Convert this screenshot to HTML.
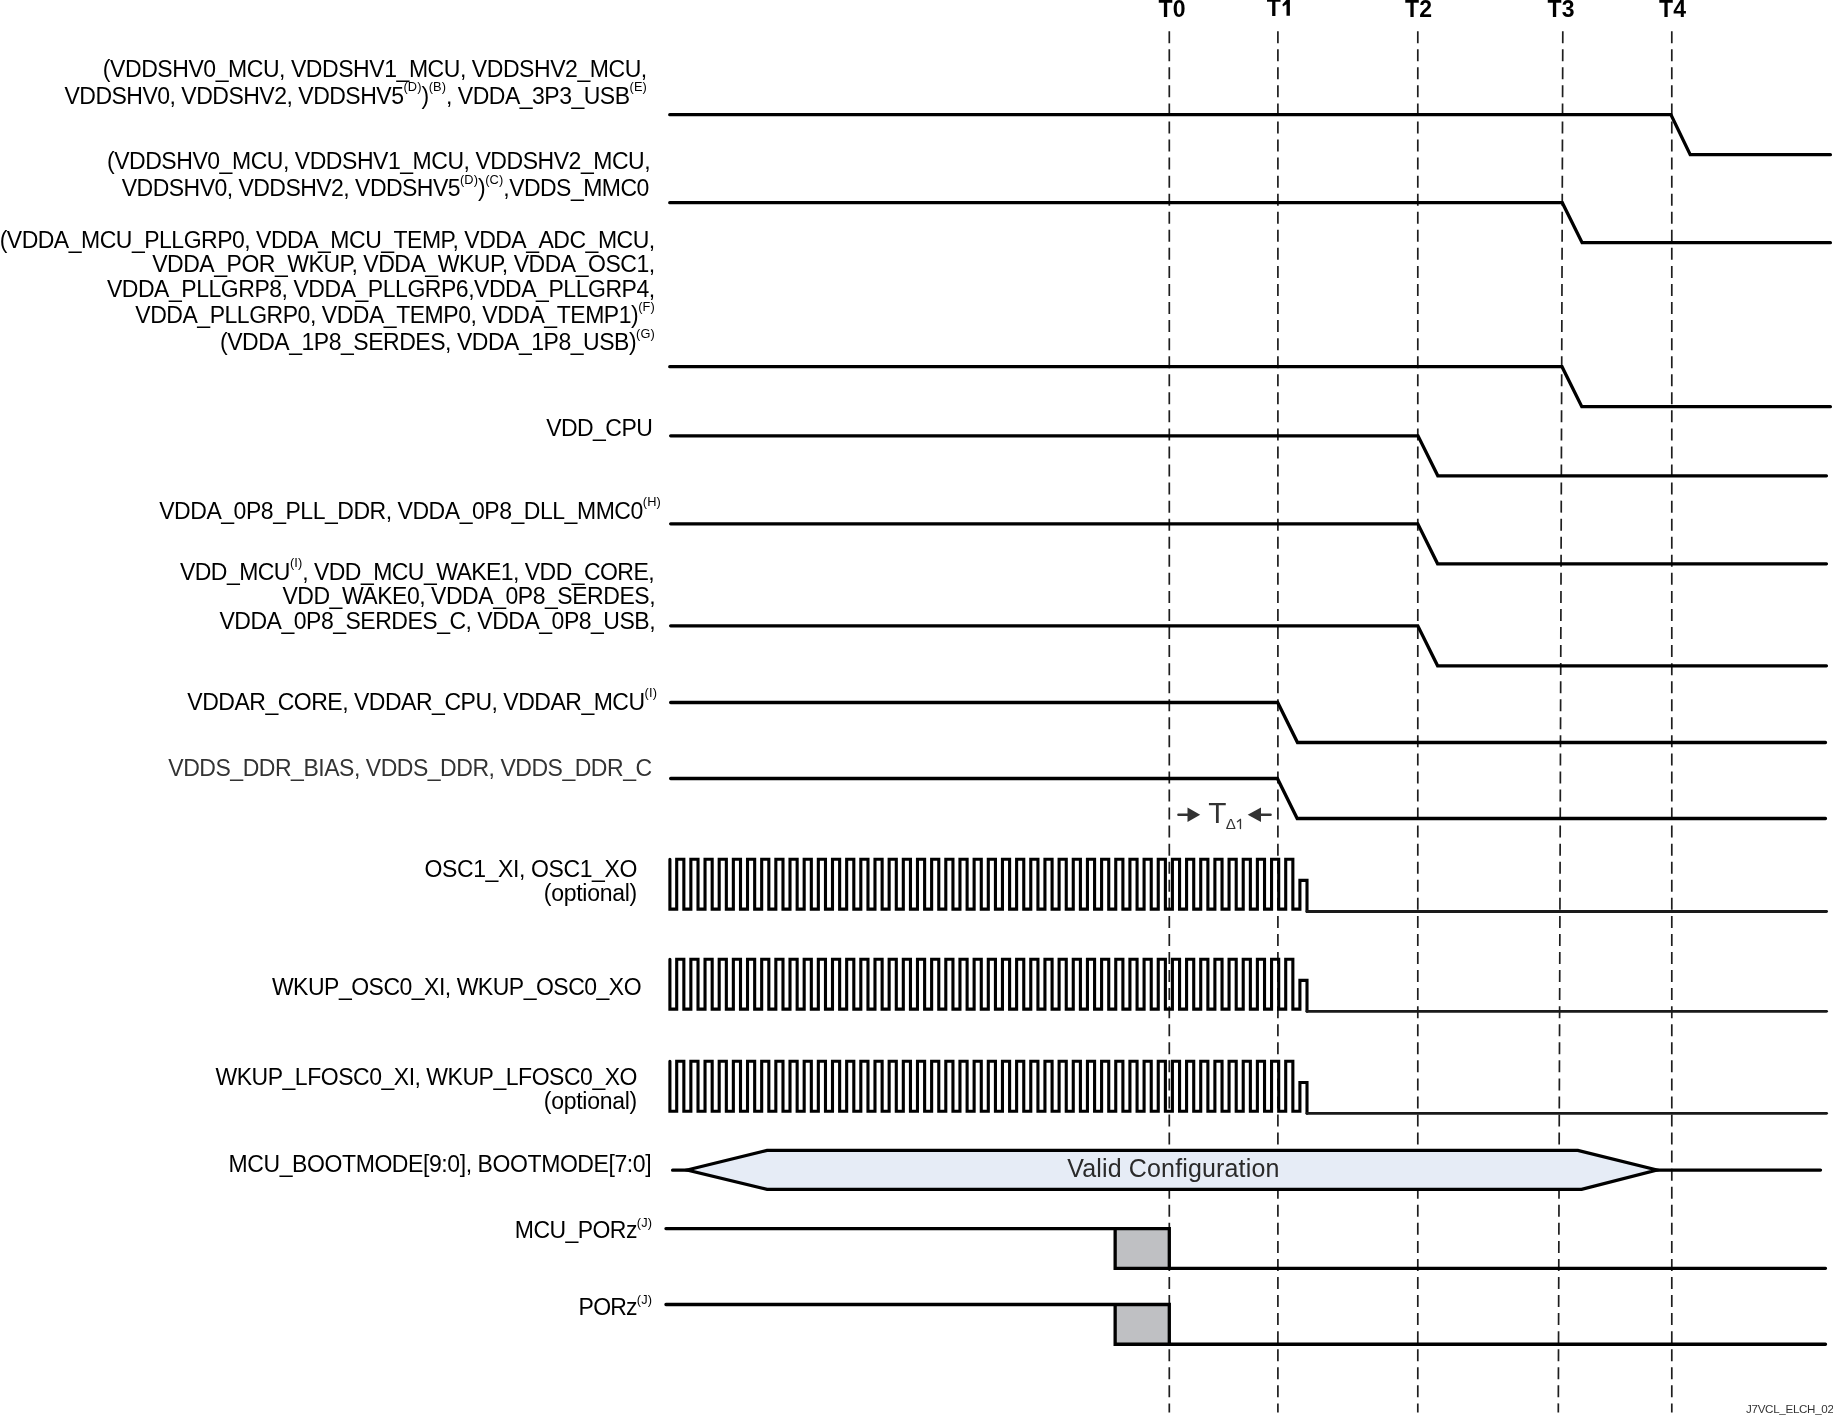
<!DOCTYPE html>
<html><head><meta charset="utf-8"><style>
html,body{margin:0;padding:0;background:#fff;}
body{width:1833px;height:1415px;overflow:hidden;}
svg{display:block;will-change:transform;font-family:"Liberation Sans",sans-serif;}
</style></head><body>
<svg width="1833" height="1415" viewBox="0 0 1833 1415">
<rect width="1833" height="1415" fill="#fff"/>
<line x1="1169.3" y1="31.2" x2="1169.3" y2="1412.6" stroke="#1e1e1e" stroke-width="1.7" stroke-dasharray="12.0 6.055"/>
<line x1="1277.9" y1="31.2" x2="1277.9" y2="1412.6" stroke="#1e1e1e" stroke-width="1.7" stroke-dasharray="12.0 6.055"/>
<line x1="1417.8" y1="31.2" x2="1417.8" y2="1412.6" stroke="#1e1e1e" stroke-width="1.7" stroke-dasharray="12.0 6.055"/>
<line x1="1562.8" y1="31.2" x2="1558.3" y2="1412.6" stroke="#1e1e1e" stroke-width="1.7" stroke-dasharray="12.0 6.055"/>
<line x1="1671.8" y1="31.2" x2="1671.8" y2="1412.6" stroke="#1e1e1e" stroke-width="1.7" stroke-dasharray="12.0 6.055"/>
<text x="1172" y="17" text-anchor="middle" font-weight="bold" font-size="23">T0</text>
<text x="1266.7" y="15.7" font-weight="bold" font-size="23">T</text>
<path d="M1286.5 -1 H1289.9 V15.7 H1286.5 Z M1287.3 -1 L1286.5 4.3 L1283 6.6 L1282.4 4.4 Z" fill="#000"/>
<text x="1418.5" y="16.5" text-anchor="middle" font-weight="bold" font-size="23">T2</text>
<text x="1561" y="17" text-anchor="middle" font-weight="bold" font-size="23">T3</text>
<text x="1672.5" y="16.5" text-anchor="middle" font-weight="bold" font-size="23">T4</text>
<path d="M669.75 114.65 H1670.9 L1690.20 154.65 H1830.4" fill="none" stroke="#000" stroke-width="3.3" stroke-linejoin="miter" stroke-linecap="round"/>
<path d="M669.75 202.65 H1562.3 L1582.10 242.65 H1830.4" fill="none" stroke="#000" stroke-width="3.3" stroke-linejoin="miter" stroke-linecap="round"/>
<path d="M669.75 366.65 H1562.0 L1581.80 406.65 H1830.4" fill="none" stroke="#000" stroke-width="3.3" stroke-linejoin="miter" stroke-linecap="round"/>
<path d="M670.65 435.8 H1418.0 L1437.80 475.8 H1826.45" fill="none" stroke="#000" stroke-width="3.3" stroke-linejoin="miter" stroke-linecap="round"/>
<path d="M670.65 523.8 H1417.8 L1437.60 563.8 H1826.45" fill="none" stroke="#000" stroke-width="3.3" stroke-linejoin="miter" stroke-linecap="round"/>
<path d="M670.65 625.8 H1417.8 L1437.60 665.8 H1826.45" fill="none" stroke="#000" stroke-width="3.3" stroke-linejoin="miter" stroke-linecap="round"/>
<path d="M670.65 702.5 H1277.7 L1297.50 742.5 H1825.5" fill="none" stroke="#000" stroke-width="3.3" stroke-linejoin="miter" stroke-linecap="round"/>
<path d="M670.65 778.5 H1277.4 L1297.20 818.5 H1825.5" fill="none" stroke="#000" stroke-width="3.3" stroke-linejoin="miter" stroke-linecap="round"/>
<path d="M669.9 859.3 V909.1 H676.70 V859.3 H683.85 V909.1 H690.86 V859.3 H698.01 V909.1 H705.03 V859.3 H712.18 V909.1 H719.19 V859.3 H726.34 V909.1 H733.35 V859.3 H740.50 V909.1 H747.52 V859.3 H754.67 V909.1 H761.68 V859.3 H768.83 V909.1 H775.84 V859.3 H782.99 V909.1 H790.00 V859.3 H797.15 V909.1 H804.17 V859.3 H811.32 V909.1 H818.33 V859.3 H825.48 V909.1 H832.49 V859.3 H839.64 V909.1 H846.66 V859.3 H853.81 V909.1 H860.82 V859.3 H867.97 V909.1 H874.98 V859.3 H882.13 V909.1 H889.14 V859.3 H896.29 V909.1 H903.31 V859.3 H910.46 V909.1 H917.47 V859.3 H924.62 V909.1 H931.63 V859.3 H938.78 V909.1 H945.80 V859.3 H952.95 V909.1 H959.96 V859.3 H967.11 V909.1 H974.12 V859.3 H981.27 V909.1 H988.29 V859.3 H995.44 V909.1 H1002.45 V859.3 H1009.60 V909.1 H1016.61 V859.3 H1023.76 V909.1 H1030.78 V859.3 H1037.93 V909.1 H1044.94 V859.3 H1052.09 V909.1 H1059.10 V859.3 H1066.25 V909.1 H1073.26 V859.3 H1080.41 V909.1 H1087.43 V859.3 H1094.58 V909.1 H1101.59 V859.3 H1108.74 V909.1 H1115.75 V859.3 H1122.90 V909.1 H1129.92 V859.3 H1137.07 V909.1 H1144.08 V859.3 H1151.23 V909.1 H1158.24 V859.3 H1165.39 V909.1 H1172.40 V859.3 H1179.56 V909.1 H1186.57 V859.3 H1193.72 V909.1 H1200.73 V859.3 H1207.88 V909.1 H1214.89 V859.3 H1222.04 V909.1 H1229.06 V859.3 H1236.21 V909.1 H1243.22 V859.3 H1250.37 V909.1 H1257.38 V859.3 H1264.53 V909.1 H1271.55 V859.3 H1278.70 V909.1 H1285.71 V859.3 H1292.86 V909.1 H1299.91 V880.4 H1307.01 V911.5" fill="none" stroke="#000" stroke-width="3.1" stroke-linejoin="miter" stroke-linecap="round"/><path d="M1307.01 911.5 H1826.6" fill="none" stroke="#1a1a1a" stroke-width="2.8" stroke-linecap="round"/>
<path d="M669.9 959.3 V1009.1 H676.70 V959.3 H683.85 V1009.1 H690.86 V959.3 H698.01 V1009.1 H705.03 V959.3 H712.18 V1009.1 H719.19 V959.3 H726.34 V1009.1 H733.35 V959.3 H740.50 V1009.1 H747.52 V959.3 H754.67 V1009.1 H761.68 V959.3 H768.83 V1009.1 H775.84 V959.3 H782.99 V1009.1 H790.00 V959.3 H797.15 V1009.1 H804.17 V959.3 H811.32 V1009.1 H818.33 V959.3 H825.48 V1009.1 H832.49 V959.3 H839.64 V1009.1 H846.66 V959.3 H853.81 V1009.1 H860.82 V959.3 H867.97 V1009.1 H874.98 V959.3 H882.13 V1009.1 H889.14 V959.3 H896.29 V1009.1 H903.31 V959.3 H910.46 V1009.1 H917.47 V959.3 H924.62 V1009.1 H931.63 V959.3 H938.78 V1009.1 H945.80 V959.3 H952.95 V1009.1 H959.96 V959.3 H967.11 V1009.1 H974.12 V959.3 H981.27 V1009.1 H988.29 V959.3 H995.44 V1009.1 H1002.45 V959.3 H1009.60 V1009.1 H1016.61 V959.3 H1023.76 V1009.1 H1030.78 V959.3 H1037.93 V1009.1 H1044.94 V959.3 H1052.09 V1009.1 H1059.10 V959.3 H1066.25 V1009.1 H1073.26 V959.3 H1080.41 V1009.1 H1087.43 V959.3 H1094.58 V1009.1 H1101.59 V959.3 H1108.74 V1009.1 H1115.75 V959.3 H1122.90 V1009.1 H1129.92 V959.3 H1137.07 V1009.1 H1144.08 V959.3 H1151.23 V1009.1 H1158.24 V959.3 H1165.39 V1009.1 H1172.40 V959.3 H1179.56 V1009.1 H1186.57 V959.3 H1193.72 V1009.1 H1200.73 V959.3 H1207.88 V1009.1 H1214.89 V959.3 H1222.04 V1009.1 H1229.06 V959.3 H1236.21 V1009.1 H1243.22 V959.3 H1250.37 V1009.1 H1257.38 V959.3 H1264.53 V1009.1 H1271.55 V959.3 H1278.70 V1009.1 H1285.71 V959.3 H1292.86 V1009.1 H1299.91 V980.4 H1307.01 V1011.3" fill="none" stroke="#000" stroke-width="3.1" stroke-linejoin="miter" stroke-linecap="round"/><path d="M1307.01 1011.3 H1826.6" fill="none" stroke="#1a1a1a" stroke-width="2.8" stroke-linecap="round"/>
<path d="M669.9 1061.3 V1111.3 H676.70 V1061.3 H683.85 V1111.3 H690.86 V1061.3 H698.01 V1111.3 H705.03 V1061.3 H712.18 V1111.3 H719.19 V1061.3 H726.34 V1111.3 H733.35 V1061.3 H740.50 V1111.3 H747.52 V1061.3 H754.67 V1111.3 H761.68 V1061.3 H768.83 V1111.3 H775.84 V1061.3 H782.99 V1111.3 H790.00 V1061.3 H797.15 V1111.3 H804.17 V1061.3 H811.32 V1111.3 H818.33 V1061.3 H825.48 V1111.3 H832.49 V1061.3 H839.64 V1111.3 H846.66 V1061.3 H853.81 V1111.3 H860.82 V1061.3 H867.97 V1111.3 H874.98 V1061.3 H882.13 V1111.3 H889.14 V1061.3 H896.29 V1111.3 H903.31 V1061.3 H910.46 V1111.3 H917.47 V1061.3 H924.62 V1111.3 H931.63 V1061.3 H938.78 V1111.3 H945.80 V1061.3 H952.95 V1111.3 H959.96 V1061.3 H967.11 V1111.3 H974.12 V1061.3 H981.27 V1111.3 H988.29 V1061.3 H995.44 V1111.3 H1002.45 V1061.3 H1009.60 V1111.3 H1016.61 V1061.3 H1023.76 V1111.3 H1030.78 V1061.3 H1037.93 V1111.3 H1044.94 V1061.3 H1052.09 V1111.3 H1059.10 V1061.3 H1066.25 V1111.3 H1073.26 V1061.3 H1080.41 V1111.3 H1087.43 V1061.3 H1094.58 V1111.3 H1101.59 V1061.3 H1108.74 V1111.3 H1115.75 V1061.3 H1122.90 V1111.3 H1129.92 V1061.3 H1137.07 V1111.3 H1144.08 V1061.3 H1151.23 V1111.3 H1158.24 V1061.3 H1165.39 V1111.3 H1172.40 V1061.3 H1179.56 V1111.3 H1186.57 V1061.3 H1193.72 V1111.3 H1200.73 V1061.3 H1207.88 V1111.3 H1214.89 V1061.3 H1222.04 V1111.3 H1229.06 V1061.3 H1236.21 V1111.3 H1243.22 V1061.3 H1250.37 V1111.3 H1257.38 V1061.3 H1264.53 V1111.3 H1271.55 V1061.3 H1278.70 V1111.3 H1285.71 V1061.3 H1292.86 V1111.3 H1299.91 V1082.5 H1307.01 V1113.3" fill="none" stroke="#000" stroke-width="3.1" stroke-linejoin="miter" stroke-linecap="round"/><path d="M1307.01 1113.3 H1826.6" fill="none" stroke="#1a1a1a" stroke-width="2.8" stroke-linecap="round"/>
<path d="M687.1 1170.0 L767.1 1150.4 H1577.8 L1656.9 1170.0 L1581.6 1189.4 H767.1 Z" fill="#E6ECF6" stroke="#000" stroke-width="3.3" stroke-linejoin="miter" stroke-miterlimit="10"/><path d="M672.6 1170.2 H687.5 M1656.5 1170.05 H1820.5" stroke="#000" stroke-width="3.3" stroke-linecap="round"/><text x="1173.4" y="1177" text-anchor="middle" font-size="25" letter-spacing="0.15" fill="#2a2a2a">Valid Configuration</text>
<rect x="1115.15" y="1228.55" width="54.15" height="39.75" fill="#BFC0C3"/>
<path d="M665.95 1228.55 H1169.3 V1268.3 H1825.5 M1169.3 1268.3 H1115.15 V1228.55" fill="none" stroke="#000" stroke-width="3.3" stroke-linecap="round"/>
<rect x="1115.15" y="1304.5" width="54.15" height="39.75" fill="#BFC0C3"/>
<path d="M665.95 1304.5 H1169.3 V1344.25 H1825.5 M1169.3 1344.25 H1115.15 V1304.5" fill="none" stroke="#000" stroke-width="3.3" stroke-linecap="round"/>
<path d="M1178.4 814.7 H1190" stroke="#333" stroke-width="2.4" stroke-linecap="round"/><path d="M1187.5 807.5 L1200.2 814.7 L1187.5 822 Z" fill="#333"/><path d="M1259 814.7 H1270.6" stroke="#333" stroke-width="2.4" stroke-linecap="round"/><path d="M1261 807.5 L1247.7 814.7 L1261 822 Z" fill="#333"/><text x="1208.3" y="822.8" font-size="29.8" fill="#333">T</text><text x="1225.7" y="828.9" font-size="15.2" fill="#333">Δ</text><path d="M1240.45 819.3 V828.6 M1240.3 819.5 L1237.4 821.7" fill="none" stroke="#333" stroke-width="1.35" stroke-linecap="round"/>
<text x="646.80" y="76.7" text-anchor="end" font-size="23" letter-spacing="-0.439" fill="#000">(VDDSHV0_MCU, VDDSHV1_MCU, VDDSHV2_MCU,</text>
<text x="646.90" y="103.6" text-anchor="end" font-size="23" letter-spacing="-0.500" fill="#000">VDDSHV0, VDDSHV2, VDDSHV5<tspan dy="-12.7" font-size="12.8" letter-spacing="0.1">(D)</tspan><tspan dy="12.7">)</tspan><tspan dy="-12.7" font-size="12.8" letter-spacing="0.1">(B)</tspan><tspan dy="12.7">, VDDA_3P3_USB</tspan><tspan dy="-12.8" font-size="12.8" letter-spacing="0.1">(E)</tspan><tspan dy="12.8"></tspan></text>
<text x="650.20" y="168.9" text-anchor="end" font-size="23" letter-spacing="-0.458" fill="#000">(VDDSHV0_MCU, VDDSHV1_MCU, VDDSHV2_MCU,</text>
<text x="648.80" y="195.6" text-anchor="end" font-size="23" letter-spacing="-0.531" fill="#000">VDDSHV0, VDDSHV2, VDDSHV5<tspan dy="-11.8" font-size="12.8" letter-spacing="0.1">(D)</tspan><tspan dy="11.8">)</tspan><tspan dy="-11.8" font-size="12.8" letter-spacing="0.1">(C)</tspan><tspan dy="11.8">,VDDS_MMC0</tspan></text>
<text x="654.70" y="247.9" text-anchor="end" font-size="23" letter-spacing="-0.493" fill="#000">(VDDA_MCU_PLLGRP0, VDDA_MCU_TEMP, VDDA_ADC_MCU,</text>
<text x="654.70" y="271.8" text-anchor="end" font-size="23" letter-spacing="-0.469" fill="#000">VDDA_POR_WKUP, VDDA_WKUP, VDDA_OSC1,</text>
<text x="654.70" y="296.6" text-anchor="end" font-size="23" letter-spacing="-0.464" fill="#000">VDDA_PLLGRP8, VDDA_PLLGRP6,VDDA_PLLGRP4,</text>
<text x="654.90" y="322.8" text-anchor="end" font-size="23" letter-spacing="-0.467" fill="#000">VDDA_PLLGRP0, VDDA_TEMP0, VDDA_TEMP1)<tspan dy="-11.9" font-size="12.8" letter-spacing="0.1">(F)</tspan><tspan dy="11.9"></tspan></text>
<text x="654.90" y="349.6" text-anchor="end" font-size="23" letter-spacing="-0.473" fill="#000">(VDDA_1P8_SERDES, VDDA_1P8_USB)<tspan dy="-12.1" font-size="12.8" letter-spacing="0.1">(G)</tspan><tspan dy="12.1"></tspan></text>
<text x="652.30" y="435.7" text-anchor="end" font-size="23" letter-spacing="-0.547" fill="#000">VDD_CPU</text>
<text x="660.90" y="518.6" text-anchor="end" font-size="23" letter-spacing="-0.465" fill="#000">VDDA_0P8_PLL_DDR, VDDA_0P8_DLL_MMC0<tspan dy="-12.9" font-size="12.8" letter-spacing="0.1">(H)</tspan><tspan dy="12.9"></tspan></text>
<text x="654.10" y="579.7" text-anchor="end" font-size="23" letter-spacing="-0.544" fill="#000">VDD_MCU<tspan dy="-13.1" font-size="12.8" letter-spacing="0.1">(I)</tspan><tspan dy="13.1">, VDD_MCU_WAKE1, VDD_CORE,</tspan></text>
<text x="655.10" y="604.0" text-anchor="end" font-size="23" letter-spacing="-0.462" fill="#000">VDD_WAKE0, VDDA_0P8_SERDES,</text>
<text x="655.10" y="628.7" text-anchor="end" font-size="23" letter-spacing="-0.490" fill="#000">VDDA_0P8_SERDES_C, VDDA_0P8_USB,</text>
<text x="657.00" y="709.6" text-anchor="end" font-size="23" letter-spacing="-0.487" fill="#000">VDDAR_CORE, VDDAR_CPU, VDDAR_MCU<tspan dy="-12.9" font-size="12.8" letter-spacing="0.1">(I)</tspan><tspan dy="12.9"></tspan></text>
<text x="651.60" y="775.9" text-anchor="end" font-size="23" letter-spacing="-0.471" fill="#333">VDDS_DDR_BIAS, VDDS_DDR, VDDS_DDR_C</text>
<text x="637.00" y="876.8" text-anchor="end" font-size="23" letter-spacing="-0.380" fill="#000">OSC1_XI, OSC1_XO</text>
<text x="637.00" y="900.6" text-anchor="end" font-size="23" letter-spacing="-0.267" fill="#000">(optional)</text>
<text x="641.10" y="994.8" text-anchor="end" font-size="23" letter-spacing="-0.500" fill="#000">WKUP_OSC0_XI, WKUP_OSC0_XO</text>
<text x="637.00" y="1084.8" text-anchor="end" font-size="23" letter-spacing="-0.476" fill="#000">WKUP_LFOSC0_XI, WKUP_LFOSC0_XO</text>
<text x="637.00" y="1108.8" text-anchor="end" font-size="23" letter-spacing="-0.267" fill="#000">(optional)</text>
<text x="651.20" y="1171.8" text-anchor="end" font-size="23" letter-spacing="-0.413" fill="#000">MCU_BOOTMODE[9:0], BOOTMODE[7:0]</text>
<text x="652.10" y="1237.9" text-anchor="end" font-size="23" letter-spacing="-0.557" fill="#000">MCU_PORz<tspan dy="-10.9" font-size="12.8" letter-spacing="0.1">(J)</tspan><tspan dy="10.9"></tspan></text>
<text x="652.10" y="1314.6" text-anchor="end" font-size="23" letter-spacing="-0.767" fill="#000">PORz<tspan dy="-10.9" font-size="12.8" letter-spacing="0.1">(J)</tspan><tspan dy="10.9"></tspan></text>
<text x="1746" y="1413" font-size="11.6" letter-spacing="-0.3" fill="#333">J7VCL_ELCH_02</text>
</svg>
</body></html>
